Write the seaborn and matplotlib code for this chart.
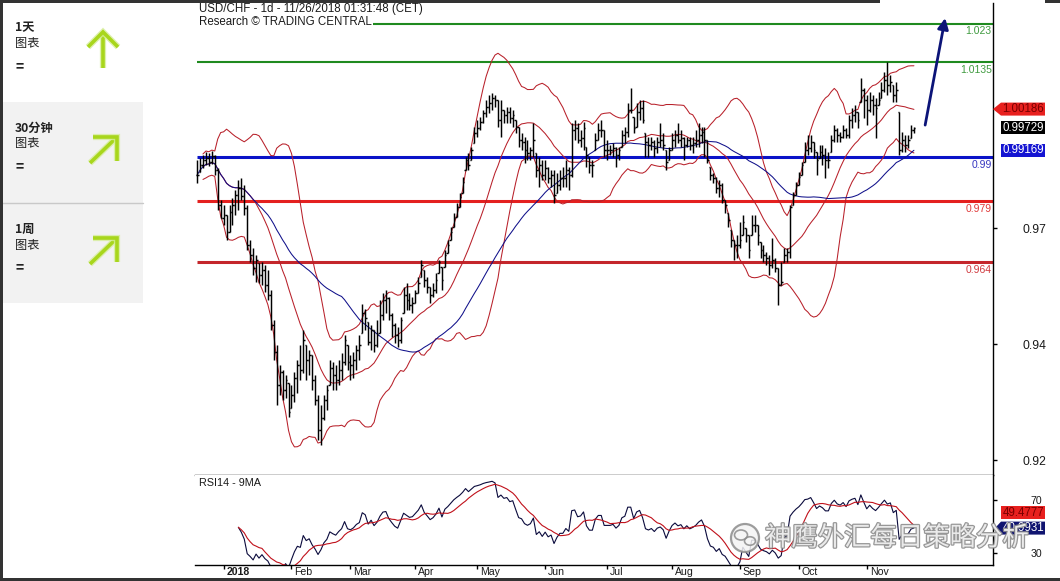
import numpy as np
import pandas as pd
import matplotlib
matplotlib.use("Agg")
import matplotlib.pyplot as plt
import matplotlib.patheffects as pe
from matplotlib.patches import Rectangle, Polygon, Circle, Ellipse
from matplotlib.lines import Line2D
from matplotlib.transforms import IdentityTransform
from matplotlib.ticker import FixedLocator, FixedFormatter
import seaborn as sns

# ---------------- data ----------------
start_date = "2017-12-19"
end_date = "2018-11-23"

closes = [
    .9855, .9880, .9893, .9898, .9888, .9902, .9868, .9781, .9749, .9756, .9714,
    .9764, .9781, .9806, .9823, .9804, .9774, .9682, .9658, .9625, .9645,
    .9608, .9620, .9583, .9558, .9485, .9417, .9336, .9368, .9323, .9348,
    .9269, .9311, .9353, .9385, .9373, .9447, .9398, .9410, .9348, .9299,
    .9224, .9254, .9299, .9323, .9378, .9361, .9348, .9373, .9393, .9447,
    .9393, .9385, .9398, .9422, .9435, .9514, .9502, .9442, .9472, .9435,
    .9460, .9509, .9546, .9551, .9509, .9484, .9460, .9447, .9497, .9558,
    .9546, .9534, .9539, .9563, .9588, .9633, .9596, .9578, .9558, .9571,
    .9596, .9640, .9596, .9658, .9682, .9714, .9749, .9776, .9801, .9838,
    .9893, .9880, .9917, .9959, .9972, .9987, 1.0009, 1.0024, 1.0034, 1.0046,
    1.0041, .9992, 1.0016, 1.0004, 1.0011, .9997, 1.0004, .9974, .9942, .9937,
    .9917, .9910, .9917, .9942, .9868, .9880, .9855, .9873, .9848, .9855,
    .9806, .9831, .9848, .9848, .9868, .9855, .9967, .9972, .9942, .9947,
    .9972, .9905, .9880, .9880, .9942, .9967, .9967, .9917, .9917, .9917,
    .9922, .9905, .9917, .9954, .9962, 1.0016, 1.0016, .9972, 1.0011, 1.0021,
    .9992, .9937, .9930, .9937, .9922, .9937, .9942, .9930, .9888, .9917,
    .9942, .9954, .9942, .9947, .9930, .9942, .9930, .9935, .9942, .9954,
    .9962, .9942, .9893, .9855, .9848, .9823, .9831, .9794, .9781, .9744,
    .9695, .9682, .9682, .9695, .9739, .9707, .9670, .9732, .9732, .9707,
    .9670, .9658, .9650, .9633, .9645, .9625, .9583, .9591, .9658, .9665,
    .9776, .9806, .9831, .9851, .9880, .9917, .9922, .9937, .9917, .9893,
    .9912, .9905, .9893, .9893, .9942, .9967, .9954, .9950, .9967, .9954,
    .9992, 1.0004, 1.0011, .9992, 1.0066, 1.0041, 1.0016, 1.0041, 1.0029, 1.0021,
    1.0041, 1.0066, 1.0091, 1.0078, 1.0086, 1.0053, 1.0066, .9917, .9942, .9930,
    .9942, .9967, .9973,
]

highs = [
    .9893, .9898, .9905, .9912, .9910, .9915, .9905, .9873, .9794, .9781, .9756,
    .9781, .9799, .9818, .9843, .9848, .9831, .9781, .9695, .9675, .9658,
    .9638, .9640, .9633, .9620, .9571, .9497, .9435, .9385, .9373, .9361,
    .9341, .9336, .9368, .9398, .9435, .9472, .9435, .9422, .9410, .9361,
    .9311, .9286, .9311, .9336, .9398, .9393, .9385, .9398, .9415, .9460,
    .9435, .9410, .9417, .9435, .9460, .9536, .9524, .9492, .9484, .9472,
    .9497, .9546, .9563, .9571, .9554, .9514, .9489, .9479, .9504, .9579,
    .9588, .9563, .9554, .9571, .9603, .9645, .9620, .9603, .9578, .9588,
    .9613, .9645, .9628, .9670, .9695, .9727, .9761, .9786, .9811, .9851,
    .9900, .9910, .9925, .9974, .9992, .9999, 1.0016, 1.0041, 1.0053, 1.0058,
    1.0053, 1.0041, 1.0041, 1.0016, 1.0024, 1.0024, 1.0016, .9992, .9974, .9959,
    .9950, .9942, .9925, .9984, .9910, .9900, .9893, .9893, .9876, .9868,
    .9868, .9860, .9868, .9876, .9893, .9876, .9984, .9992, .9984, .9967,
    .9987, .9925, .9900, .9893, .9959, .9984, .9992, .9967, .9942, .9930,
    .9935, .9925, .9925, .9967, .9974, 1.0034, 1.0071, .9999, 1.0034, 1.0041,
    1.0041, .9959, .9950, .9950, .9942, .9950, .9984, .9959, .9917, .9925,
    .9959, .9967, .9984, .9967, .9950, .9950, .9950, .9950, .9967, .9984,
    .9974, .9974, .9942, .9876, .9860, .9851, .9843, .9836, .9794, .9761,
    .9719, .9695, .9707, .9739, .9756, .9724, .9707, .9756, .9756, .9732,
    .9690, .9682, .9665, .9657, .9700, .9650, .9625, .9640, .9675, .9675,
    .9781, .9813, .9838, .9863, .9888, .9937, .9954, .9954, .9937, .9912,
    .9930, .9930, .9922, .9912, .9954, .9979, .9972, .9962, .9979, .9972,
    1.0004, 1.0021, 1.0029, 1.0011, 1.0096, 1.0071, 1.0053, 1.0061, 1.0053, 1.0046,
    1.0061, 1.0086, 1.0110, 1.0135, 1.0103, 1.0078, 1.0086, 1.0011, .9962, .9954,
    .9954, .9979, .9974,
]

lows = [
    .9836, .9863, .9873, .9880, .9878, .9883, .9855, .9769, .9749, .9732, .9695,
    .9714, .9732, .9756, .9769, .9794, .9756, .9670, .9640, .9608, .9591,
    .9588, .9583, .9566, .9546, .9472, .9398, .9286, .9311, .9299, .9304,
    .9257, .9279, .9294, .9316, .9348, .9366, .9348, .9361, .9323, .9286,
    .9200, .9188, .9249, .9274, .9336, .9323, .9323, .9336, .9348, .9385,
    .9373, .9348, .9353, .9373, .9398, .9465, .9472, .9435, .9422, .9417,
    .9430, .9464, .9497, .9514, .9497, .9455, .9440, .9430, .9440, .9514,
    .9521, .9521, .9514, .9539, .9563, .9603, .9578, .9563, .9539, .9554,
    .9563, .9613, .9571, .9628, .9662, .9695, .9727, .9752, .9776, .9811,
    .9868, .9868, .9893, .9935, .9950, .9967, .9984, .9999, 1.0009, 1.0016,
    1.0024, .9974, .9950, .9984, .9984, .9984, .9974, .9959, .9925, .9917,
    .9885, .9893, .9893, .9900, .9851, .9826, .9843, .9843, .9836, .9826,
    .9786, .9811, .9818, .9826, .9826, .9818, .9850, .9942, .9935, .9925,
    .9917, .9876, .9860, .9851, .9917, .9942, .9950, .9900, .9893, .9905,
    .9900, .9876, .9893, .9925, .9935, .9950, 1.0009, .9959, .9974, .9992,
    .9984, .9900, .9900, .9917, .9900, .9910, .9925, .9917, .9868, .9893,
    .9917, .9925, .9935, .9925, .9893, .9925, .9917, .9910, .9925, .9925,
    .9935, .9900, .9885, .9843, .9836, .9811, .9801, .9786, .9761, .9727,
    .9677, .9645, .9650, .9675, .9707, .9690, .9650, .9707, .9714, .9682,
    .9650, .9640, .9633, .9608, .9625, .9615, .9534, .9583, .9640, .9640,
    .9650, .9781, .9806, .9831, .9855, .9888, .9905, .9912, .9898, .9855,
    .9898, .9880, .9848, .9873, .9912, .9937, .9937, .9937, .9947, .9947,
    .9947, .9972, .9987, .9972, 1.0036, .9997, .9979, 1.0011, 1.0004, .9947,
    1.0029, 1.0046, 1.0061, 1.0053, 1.0061, 1.0036, 1.0036, .9905, .9912, .9912,
    .9922, .9947, .9959,
]

level_values = [1.023, 1.0135, 0.99, 0.979, 0.964]
level_labels = ["1.023", "1.0135", "0.99", "0.979", "0.964"]
level_colors = ["#1f8a1f", "#1f8a1f", "#0a12c8", "#e4201f", "#c4262b"]
level_label_colors = ["#3f9a3f", "#3f9a3f", "#3535c0", "#e03a3a", "#d03a3f"]
level_widths = [1.5, 1.5, 2.2, 2.2, 2.2]

price_tick_values = [0.9724, 0.9437, 0.9150]
price_tick_labels = ["0.97", "0.94", "0.92"]
rsi_tick_values = [70, 30]
rsi_tick_labels = ["70", "30"]

price_tags = [("1.00186", "#e8201e", "#7a0000", True),
              ("0.99729", "#000000", "#ffffff", False),
              ("0.99169", "#1414d2", "#ffffff", False)]
rsi_tags = [("49.4777", "#e8201e", "#7a0000", False, 0.578),
            ("40.9931", "#101470", "#ffffff", True, 0.41)]

month_labels = ["2018", "Feb", "Mar", "Apr", "May", "Jun", "Jul", "Aug", "Sep", "Oct", "Nov"]

title_line1 = "USD/CHF - 1d - 11/26/2018 01:31:48 (CET)"
title_line2 = "Research \u00a9 TRADING CENTRAL"
rsi_title = "RSI14 - 9MA"
watermark = "神鹰外汇每日策略分析"

timeframes = ["1天", "30分钟", "1周"]
timeframe_sub = "图表"
timeframe_state = "="
timeframe_dirs = ["up", "upright", "upright"]

target_level = 1.023

# ---------------- derived series ----------------
dates = pd.bdate_range(start_date, end_date)
n = len(dates)
xs = np.arange(n)
s = pd.Series(closes, dtype=float)
prev_close = s.shift(1).fillna(s.iloc[0]).to_numpy()
opens = np.clip(prev_close, lows, highs)

bb_mid = s.rolling(20, min_periods=3).mean()
bb_sd = s.rolling(20, min_periods=3).std(ddof=0)
bb_up = bb_mid + 2 * bb_sd
bb_lo = bb_mid - 2 * bb_sd
ma50 = s.rolling(50, min_periods=1).mean()

delta = s.diff()
gain = delta.clip(lower=0)
loss = (-delta).clip(lower=0)
ag = gain.ewm(alpha=1 / 14, adjust=True, min_periods=14).mean()
al = loss.ewm(alpha=1 / 14, adjust=True, min_periods=14).mean()
rsi = 100 - 100 / (1 + ag / al)
rsi_ma = rsi.rolling(9, min_periods=1).mean()

df = pd.DataFrame({"x": xs, "up": bb_up, "mid": bb_mid, "lo": bb_lo,
                   "ma": ma50, "rsi": rsi, "rsi_ma": rsi_ma})

month_starts = [i for i in range(1, n) if dates[i].month != dates[i - 1].month]

# ---------------- figure ----------------
sns.set_theme(style="white")
plt.rcParams["font.family"] = ["Liberation Sans", "Noto Sans CJK SC", "DejaVu Sans"]

W, H = 1060, 581
fig = plt.figure(figsize=(W / 100, H / 100), dpi=100)
fig.patch.set_facecolor("white")


def fx(x):
    return x / W


def fy(y):
    return 1 - y / H


AX_L, AX_R = 195, 993
ax = fig.add_axes([fx(AX_L), fy(475), fx(AX_R) - fx(AX_L), fy(3) - fy(475)])
ax2 = fig.add_axes([fx(AX_L), fy(565), fx(AX_R) - fx(AX_L), fy(475) - fy(565)])

x_lo, x_hi = -0.7, 269.8
for a in (ax, ax2):
    a.set_facecolor("white")
    a.set_xlim(x_lo, x_hi)
    for sp in ("left", "top"):
        a.spines[sp].set_visible(False)
    for sp in ("right", "bottom"):
        a.spines[sp].set_color("black")
        a.spines[sp].set_linewidth(1.0)
    a.grid(False)

ax.set_ylim(0.91129, 1.02812)
ax2.set_ylim(20.9, 88.9)

# title texts
t1 = fig.text(fx(199), fy(9), title_line1, fontsize=8.3, color="#1a1a1a", va="center", ha="left")
t2 = fig.text(fx(199), fy(22), title_line2, fontsize=8.3, color="#1a1a1a", va="center", ha="left")
fig.canvas.draw()
bb = t2.get_window_extent()
x_after_title = ax.transData.inverted().transform((bb.x1 + 1, 0))[0]

# horizontal levels
for v, lbl, c, lc, lw in zip(level_values, level_labels, level_colors, level_label_colors, level_widths):
    x_from = x_after_title if v == target_level else 0
    ax.hlines(v, x_from, x_hi, color=c, lw=lw, zorder=2)
    ax.annotate(lbl, xy=(1, v), xycoords=("axes fraction", "data"),
                xytext=(-1, -2), textcoords="offset points", ha="right", va="top",
                fontsize=7.5, color=lc)

# OHLC bars
ax.vlines(xs, lows, highs, color="black", lw=1.05, zorder=4)
ax.hlines(closes, xs, xs + 0.5, color="black", lw=1.05, zorder=4)
ax.hlines(opens, xs - 0.5, xs, color="black", lw=1.05, zorder=4)

# indicators
band_c = "#b8202a"
for col in ("up", "mid", "lo"):
    sns.lineplot(data=df, x="x", y=col, ax=ax, color=band_c, lw=0.75, zorder=3, legend=False)
sns.lineplot(data=df, x="x", y="ma", ax=ax, color="#10108a", lw=0.75, zorder=3, legend=False)
ax.set_xlabel("")
ax.set_ylabel("")

# projection arrow
ax.annotate("", xy=(n - 1 + 10.6, target_level + 0.0014), xytext=(n - 1 + 3.8, closes[-1] + 0.0006),
            arrowprops=dict(arrowstyle="-|>", color="#0c1478", lw=2.0, mutation_scale=16,
                            shrinkA=0, shrinkB=0), zorder=6)

# right axis ticks
ax.yaxis.tick_right()
ax.yaxis.set_major_locator(FixedLocator(price_tick_values))
ax.yaxis.set_major_formatter(FixedFormatter(price_tick_labels))
ax.tick_params(axis="y", which="both", right=True, left=False, direction="out", length=3,
               width=1, color="black", pad=18, labelsize=8.7, labelcolor="#1a1a1a")
ax.tick_params(axis="x", bottom=False, labelbottom=False)

# RSI panel
sns.lineplot(data=df, x="x", y="rsi", ax=ax2, color="#0a0a3c", lw=0.8, zorder=3, legend=False)
sns.lineplot(data=df, x="x", y="rsi_ma", ax=ax2, color="#c0101a", lw=0.8, zorder=4, legend=False)
ax2.set_xlabel("")
ax2.set_ylabel("")
ax2.yaxis.tick_right()
ax2.yaxis.set_major_locator(FixedLocator(rsi_tick_values))
ax2.yaxis.set_major_formatter(FixedFormatter(rsi_tick_labels))
ax2.tick_params(axis="y", right=True, left=False, direction="out", length=3, width=1,
                color="black", pad=24, labelsize=7.6, labelcolor="#1a1a1a")
ax2.xaxis.set_major_locator(FixedLocator(month_starts))
ax2.xaxis.set_major_formatter(FixedFormatter([""] * len(month_starts)))
ax2.tick_params(axis="x", bottom=True, direction="out", length=3, width=1, color="black")
for idx, lbl in zip(month_starts, month_labels):
    ax2.annotate(lbl, xy=(idx, 0), xycoords=("data", "axes fraction"), xytext=(2.2, -1.2),
                 textcoords="offset points", ha="left", va="top", fontsize=7.6,
                 fontweight="bold" if lbl == "2018" else "normal", color="#1a1a1a")
fig.text(fx(199), fy(483), rsi_title, fontsize=7.8, color="#1a1a1a", va="center", ha="left")

# ---------------- value tags ----------------
ID = IdentityTransform()


def draw_tag(y_disp, text, bg, fg, arrow, x_tip=993, x0=1001, x1=1045, half=6.5):
    if arrow:
        pts = [(x_tip, y_disp), (x0, y_disp + half), (x1, y_disp + half), (x1, y_disp - half), (x0, y_disp - half)]
    else:
        pts = [(x0, y_disp + half), (x1, y_disp + half), (x1, y_disp - half), (x0, y_disp - half)]
    fig.add_artist(Polygon(pts, closed=True, transform=ID, facecolor=bg, edgecolor="none", zorder=10))
    fig.text((x0 + x1) / 2 + 0.5, y_disp, text, transform=ID, ha="center", va="center",
             fontsize=8.3, color=fg, zorder=11)


for txt, bg, fg, arrow in price_tags:
    yd = ax.transData.transform((0, float(txt)))[1]
    draw_tag(yd, txt, bg, fg, arrow)
for txt, bg, fg, arrow, frac in rsi_tags:
    yd = ax2.transAxes.transform((0, frac))[1]
    draw_tag(yd, txt, bg, fg, arrow, x_tip=995)

# ---------------- left panel ----------------
fig.add_artist(Rectangle((fx(0), fy(303)), fx(143), fy(102) - fy(303), transform=fig.transFigure,
                         facecolor="#f2f2f2", edgecolor="none", zorder=0))
fig.add_artist(Line2D([fx(0), fx(143)], [fy(202.5), fy(202.5)], transform=fig.transFigure,
                      color="#c9c9c9", lw=1.0))
row_tops = [28, 128, 229]
cjk = ["Noto Sans CJK SC", "DejaVu Sans"]
green = "#a8d61c"
glow = [pe.Stroke(linewidth=4.5, foreground="#d6ee9a", alpha=0.8), pe.Normal()]
for ytop, name, d in zip(row_tops, timeframes, timeframe_dirs):
    fig.text(fx(15), fy(ytop), name, family=cjk, fontsize=8.8, fontweight="bold", color="#222222",
             va="center", ha="left")
    fig.text(fx(15), fy(ytop + 16), timeframe_sub, family=cjk, fontsize=8.8, color="#222222",
             va="center", ha="left")
    fig.text(fx(15), fy(ytop + 38), timeframe_state, family=cjk, fontsize=10, fontweight="bold",
             color="#222222", va="center", ha="left")
    if d == "up":
        segs = [[(103, ytop + 40), (103, ytop + 4)], [(88, ytop + 19), (103, ytop + 4), (118, ytop + 19)]]
    else:
        segs = [[(90, ytop + 35), (117, ytop + 9)], [(93, ytop + 9), (117, ytop + 9), (117, ytop + 33)]]
    for seg in segs:
        xsg = [fx(p[0]) for p in seg]
        ysg = [fy(p[1]) for p in seg]
        fig.add_artist(Line2D(xsg, ysg, transform=fig.transFigure, color=green, lw=2.6,
                              solid_capstyle="butt", solid_joinstyle="miter", path_effects=glow))

# frame bands
dark = "#333333"
fig.add_artist(Rectangle((0, fy(3)), fx(880), fy(0) - fy(3), transform=fig.transFigure,
                         facecolor=dark, edgecolor="none", zorder=20))
fig.add_artist(Rectangle((fx(1045), fy(3)), fx(15), fy(0) - fy(3), transform=fig.transFigure,
                         facecolor=dark, edgecolor="none", zorder=20))
fig.add_artist(Rectangle((0, 0), 1, fy(577.5), transform=fig.transFigure,
                         facecolor=dark, edgecolor="none", zorder=20))
fig.add_artist(Rectangle((0, 0), fx(2.5), 1, transform=fig.transFigure,
                         facecolor=dark, edgecolor="none", zorder=20))

# ---------------- watermark ----------------
wm_fx = [pe.withStroke(linewidth=1.8, foreground="#8c8c8c")]
fig.text(fx(765), fy(538), watermark, family=cjk, fontsize=19, color="#f4f4f4", alpha=0.9,
         va="center", ha="left", path_effects=wm_fx, zorder=30)
fig.add_artist(Circle((745, H - 538), 14, transform=ID, facecolor="#f4f4f4", edgecolor="#8c8c8c",
                      lw=1.6, alpha=0.85, zorder=30))
fig.add_artist(Ellipse((741, H - 535), 13, 10, transform=ID, facecolor="none", edgecolor="#8c8c8c",
                       lw=1.2, alpha=0.85, zorder=31))
fig.add_artist(Ellipse((750, H - 541), 11, 8.5, transform=ID, facecolor="none", edgecolor="#8c8c8c",
                       lw=1.2, alpha=0.85, zorder=31))

fig.savefig("out.png", dpi=100)
